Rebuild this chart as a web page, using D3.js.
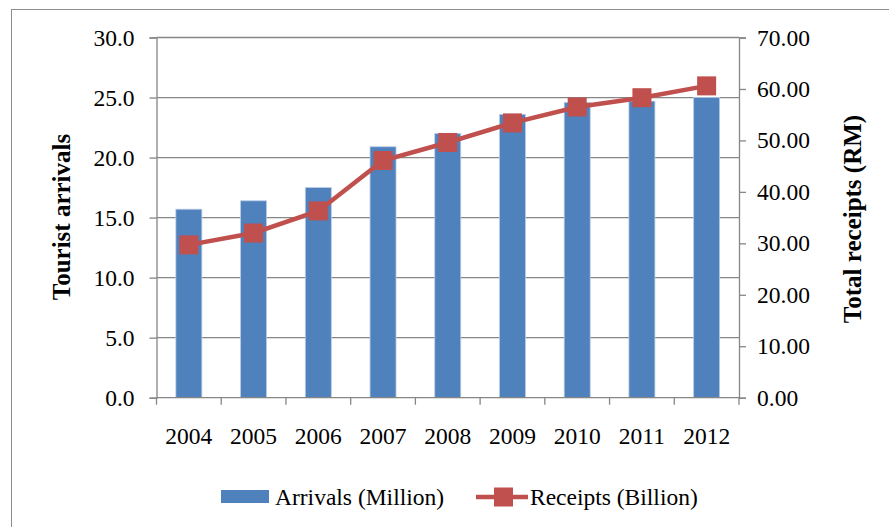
<!DOCTYPE html>
<html><head><meta charset="utf-8">
<script src="https://cdn.jsdelivr.net/npm/d3@7"></script>
<style>body{margin:0;background:#fff;} svg{display:block;}</style>
</head><body>
<svg id="chart" width="889" height="527"></svg>
<script>
const years = ["2004","2005","2006","2007","2008","2009","2010","2011","2012"];
const arrivals = [15.7, 16.4, 17.5, 20.9, 22.0, 23.6, 24.6, 24.7, 25.0];
const receipts = [29.7, 32.0, 36.3, 46.1, 49.6, 53.4, 56.5, 58.3, 60.6];
const leftTicks = [0, 5, 10, 15, 20, 25, 30];
const rightTicks = [0, 10, 20, 30, 40, 50, 60, 70];

const svg = d3.select("#chart");
const FONT = "Liberation Serif";
const axisColor = "#868686";
const L = 156.5, R = 739, T = 37.5, B = 397.7;
const FS = 23.5, TFS = 25;

function styleText(sel, size) {
  sel.attr("font-family", FONT).style("font-family", FONT)
     .attr("font-size", size || FS).attr("fill", "#000");
}

svg.append("rect").attr("x", 11.5).attr("y", 9.5).attr("width", 900).attr("height", 600)
  .attr("fill", "#fff").attr("stroke", "#8c8c8c").attr("stroke-width", 1);

const xb = d3.scaleBand().domain(years).range([L, R]);
const yL = d3.scaleLinear().domain([0, 30]).range([B, T]);
const yR = d3.scaleLinear().domain([0, 70]).range([B, T]);

// gridlines
svg.append("g").selectAll("line").data(leftTicks.slice(1)).join("line")
  .attr("x1", L).attr("x2", R).attr("y1", d => yL(d)).attr("y2", d => yL(d))
  .attr("stroke", axisColor).attr("stroke-width", 1.3);

// bars
svg.append("g").selectAll("rect").data(arrivals).join("rect")
  .attr("x", (d, i) => xb(years[i]) + xb.bandwidth()/2 - 13)
  .attr("width", 26)
  .attr("y", d => yL(d)).attr("height", d => B - yL(d))
  .attr("fill", "#4F81BD").attr("stroke", "#B9CDE5").attr("stroke-width", 0.8);

// axes
const gl = svg.append("g").attr("transform", `translate(${L},0)`)
  .call(d3.axisLeft(yL).tickValues(leftTicks).tickFormat(d3.format(".1f")).tickSize(7).tickPadding(15));
const gr = svg.append("g").attr("transform", `translate(${R},0)`)
  .call(d3.axisRight(yR).tickValues(rightTicks).tickFormat(d3.format(".2f")).tickSize(7).tickPadding(11));
const gx = svg.append("g").attr("transform", `translate(0,${B})`)
  .call(d3.axisBottom(xb).tickSize(0).tickPadding(30));
svg.append("g").selectAll("line").data(d3.range(years.length + 1)).join("line")
  .attr("x1", i => L + i * xb.step()).attr("x2", i => L + i * xb.step())
  .attr("y1", B).attr("y2", B + 7).attr("stroke", axisColor).attr("stroke-width", 1.3);

[gl, gr, gx].forEach(g => {
  g.attr("font-family", null).attr("font-size", null);
  g.selectAll("path.domain").attr("stroke", axisColor).attr("stroke-width", 1.3);
  g.selectAll(".tick line").attr("stroke", axisColor).attr("stroke-width", 1.3);
  styleText(g.selectAll("text"));
});
gx.select("path.domain").attr("d", `M${L},0H${R}`);

// line
const line = d3.line().x((d, i) => xb(years[i]) + xb.bandwidth()/2).y(d => yR(d));
svg.append("path").datum(receipts).attr("d", line)
  .attr("fill", "none").attr("stroke", "#C0504D").attr("stroke-width", 4.5);
svg.append("g").selectAll("rect").data(receipts).join("rect")
  .attr("x", (d, i) => xb(years[i]) + xb.bandwidth()/2 - 9.5)
  .attr("y", d => yR(d) - 9.5).attr("width", 19).attr("height", 19)
  .attr("fill", "#C0504D");

// axis titles
svg.append("text").attr("transform", `translate(70,217) rotate(-90)`)
  .attr("text-anchor", "middle").attr("font-weight", "bold").text("Tourist arrivals").call(styleText, TFS);
svg.append("text").attr("transform", `translate(861,219) rotate(-90)`)
  .attr("text-anchor", "middle").attr("font-weight", "bold").text("Total receipts (RM)").call(styleText, TFS);

// legend
svg.append("rect").attr("x", 221).attr("y", 490).attr("width", 48).attr("height", 13).attr("fill", "#4F81BD");
svg.append("text").attr("x", 275).attr("y", 505).text("Arrivals (Million)").call(styleText);
svg.append("line").attr("x1", 476).attr("x2", 528).attr("y1", 497).attr("y2", 497)
  .attr("stroke", "#C0504D").attr("stroke-width", 4.5);
svg.append("rect").attr("x", 494).attr("y", 487.5).attr("width", 19).attr("height", 19).attr("fill", "#C0504D");
svg.append("text").attr("x", 530).attr("y", 505).text("Receipts (Billion)").call(styleText);
</script>
</body></html>
